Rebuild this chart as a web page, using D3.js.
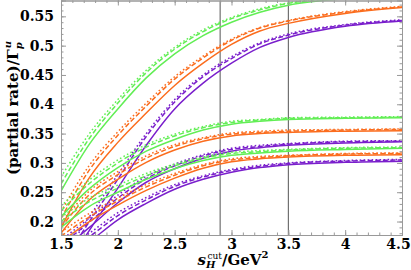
<!DOCTYPE html>
<html>
<head>
<meta charset="utf-8">
<script src="https://cdn.jsdelivr.net/npm/d3@7"></script>
<style>
  body { margin: 0; background: #fff; }
  svg { display: block; }
</style>
</head>
<body>
<div class="chart"></div>
<script>
// x grid shared by every curve
var sCut = [1.5, 1.75, 2, 2.25, 2.5, 2.75, 3, 3.25, 3.5, 4, 4.5];

// top set
var greenA_solid  = [0.252, 0.332, 0.392, 0.445, 0.486, 0.517, 0.540, 0.557, 0.569, 0.580, 0.584];
var greenA_dashed = [0.264, 0.342, 0.402, 0.454, 0.494, 0.524, 0.546, 0.561, 0.572, 0.581, 0.585];
var greenA_dotted = [0.276, 0.350, 0.408, 0.458, 0.497, 0.527, 0.548, 0.563, 0.573, 0.582, 0.586];
var orangeA_solid  = [0.190, 0.275, 0.335, 0.385, 0.432, 0.470, 0.502, 0.525, 0.538, 0.555, 0.565];
var orangeA_dashed = [0.205, 0.288, 0.347, 0.397, 0.443, 0.479, 0.509, 0.530, 0.542, 0.557, 0.566];
var orangeA_dotted = [0.217, 0.296, 0.353, 0.402, 0.447, 0.482, 0.511, 0.531, 0.543, 0.558, 0.567];
var purpleA_solid  = [0.110, 0.185, 0.257, 0.330, 0.392, 0.436, 0.470, 0.497, 0.514, 0.533, 0.542];
var purpleA_dashed = [0.125, 0.200, 0.272, 0.345, 0.404, 0.447, 0.478, 0.503, 0.518, 0.535, 0.543];
var purpleA_dotted = [0.135, 0.208, 0.280, 0.350, 0.408, 0.450, 0.481, 0.505, 0.520, 0.536, 0.544];

// middle set
var greenB_solid  = [0.208, 0.256, 0.292, 0.320, 0.340, 0.356, 0.366, 0.371, 0.374, 0.376, 0.377];
var greenB_dashed = [0.218, 0.265, 0.300, 0.327, 0.346, 0.360, 0.369, 0.373, 0.376, 0.377, 0.378];
var greenB_dotted = [0.226, 0.271, 0.305, 0.331, 0.349, 0.362, 0.371, 0.374, 0.377, 0.378, 0.379];
var orangeB_solid  = [0.180, 0.237, 0.272, 0.301, 0.322, 0.337, 0.346, 0.350, 0.352, 0.354, 0.355];
var orangeB_dashed = [0.190, 0.246, 0.280, 0.308, 0.328, 0.341, 0.349, 0.352, 0.354, 0.356, 0.357];
var orangeB_dotted = [0.198, 0.252, 0.285, 0.312, 0.331, 0.343, 0.351, 0.354, 0.356, 0.357, 0.358];
var purpleB_solid  = [0.150, 0.190, 0.232, 0.267, 0.290, 0.308, 0.320, 0.326, 0.330, 0.334, 0.336];
var purpleB_dashed = [0.160, 0.199, 0.240, 0.273, 0.295, 0.312, 0.323, 0.328, 0.332, 0.336, 0.337];
var purpleB_dotted = [0.168, 0.206, 0.245, 0.277, 0.298, 0.314, 0.325, 0.330, 0.333, 0.337, 0.338];

// lower set
var greenC_solid  = [0.190, 0.226, 0.250, 0.272, 0.290, 0.304, 0.313, 0.317, 0.320, 0.323, 0.325];
var greenC_dashed = [0.200, 0.234, 0.257, 0.278, 0.295, 0.308, 0.316, 0.319, 0.322, 0.325, 0.326];
var greenC_dotted = [0.207, 0.240, 0.262, 0.282, 0.298, 0.310, 0.318, 0.321, 0.323, 0.326, 0.327];
var orangeC_solid  = [0.165, 0.200, 0.228, 0.253, 0.274, 0.291, 0.302, 0.307, 0.310, 0.313, 0.314];
var orangeC_dashed = [0.175, 0.208, 0.235, 0.259, 0.279, 0.295, 0.305, 0.309, 0.312, 0.315, 0.316];
var orangeC_dotted = [0.182, 0.214, 0.240, 0.263, 0.282, 0.297, 0.307, 0.311, 0.313, 0.316, 0.317];
var purpleC_solid  = [0.130, 0.165, 0.203, 0.231, 0.255, 0.272, 0.284, 0.292, 0.297, 0.301, 0.303];
var purpleC_dashed = [0.140, 0.174, 0.210, 0.237, 0.260, 0.276, 0.287, 0.294, 0.299, 0.303, 0.305];
var purpleC_dotted = [0.148, 0.180, 0.215, 0.241, 0.263, 0.278, 0.289, 0.296, 0.300, 0.304, 0.306];

var cutLines = [2.9, 3.5];
var xTicks = [1.5, 2, 2.5, 3, 3.5, 4, 4.5];
var yTicks = [0.2, 0.25, 0.3, 0.35, 0.4, 0.45, 0.5, 0.55];

(function() {

  var curves = [
    [greenA_solid, "green", "solid"], [greenA_dashed, "green", "dashed"], [greenA_dotted, "green", "dotted"],
    [orangeA_solid, "orange", "solid"], [orangeA_dashed, "orange", "dashed"], [orangeA_dotted, "orange", "dotted"],
    [purpleA_solid, "purple", "solid"], [purpleA_dashed, "purple", "dashed"], [purpleA_dotted, "purple", "dotted"],
    [greenB_solid, "green", "solid"], [greenB_dashed, "green", "dashed"], [greenB_dotted, "green", "dotted"],
    [orangeB_solid, "orange", "solid"], [orangeB_dashed, "orange", "dashed"], [orangeB_dotted, "orange", "dotted"],
    [purpleB_solid, "purple", "solid"], [purpleB_dashed, "purple", "dashed"], [purpleB_dotted, "purple", "dotted"],
    [greenC_solid, "green", "solid"], [greenC_dashed, "green", "dashed"], [greenC_dotted, "green", "dotted"],
    [orangeC_solid, "orange", "solid"], [orangeC_dashed, "orange", "dashed"], [orangeC_dotted, "orange", "dotted"],
    [purpleC_solid, "purple", "solid"], [purpleC_dashed, "purple", "dashed"], [purpleC_dotted, "purple", "dotted"]
  ];

  var colors = { green: "#62ee55", orange: "#fb6d1e", purple: "#7a1fcc" };
  var dashes = { solid: null, dashed: "5,2.5", dotted: "1.6,2.4" };

  var width = 411, height = 270;
  var pLeft = 61, pRight = 402, pTop = 0.5, pBottom = 235;
  var serif = "'DejaVu Serif', 'Liberation Serif', serif";

  var svg = d3.select(".chart").append("svg")
    .attr("width", width)
    .attr("height", height);

  var x = d3.scaleLinear().domain([1.5, 4.5]).range([pLeft, pRight]);
  var y = d3.scaleLinear().domain([0.177, 0.577]).range([pBottom, pTop]);

  svg.append("defs").append("clipPath").attr("id", "plot")
    .append("rect")
    .attr("x", pLeft).attr("y", pTop)
    .attr("width", pRight - pLeft).attr("height", pBottom - pTop);

  var line = d3.line()
    .x(function(d, i) { return x(sCut[i]); })
    .y(function(d) { return y(d); })
    .curve(d3.curveMonotoneX);

  var plot = svg.append("g").attr("clip-path", "url(#plot)");

  plot.selectAll("line.cut")
    .data(cutLines)
    .enter().append("line")
    .attr("class", "cut")
    .attr("x1", function(d) { return x(d); })
    .attr("x2", function(d) { return x(d); })
    .attr("y1", pTop).attr("y2", pBottom)
    .attr("stroke", "#555")
    .attr("stroke-width", 1);

  plot.selectAll("path.curve")
    .data(curves)
    .enter().append("path")
    .attr("class", "curve")
    .attr("d", function(d) { return line(d[0]); })
    .attr("fill", "none")
    .attr("stroke", function(d) { return colors[d[1]]; })
    .attr("stroke-width", 1.5)
    .attr("stroke-dasharray", function(d) { return dashes[d[2]]; });

  // frame with inward ticks
  var minorX = d3.range(1.5, 4.51, 0.1);
  var minorY = d3.range(0.18, 0.577, 0.01);
  var frameColor = "#999";

  function styleAxis(g) {
    g.select(".domain").attr("stroke", frameColor);
    g.selectAll(".tick line").attr("stroke", frameColor);
  }

  svg.append("g").attr("transform", "translate(0," + pBottom + ")")
    .call(d3.axisBottom(x).tickValues(minorX).tickSize(-2.5).tickFormat(""))
    .call(styleAxis);
  var xAxisG = svg.append("g").attr("transform", "translate(0," + pBottom + ")")
    .call(d3.axisBottom(x).tickValues(xTicks).tickSize(-5).tickPadding(4).tickFormat(d3.format("~g")))
    .call(styleAxis);
  svg.append("g").attr("transform", "translate(0," + pTop + ")")
    .call(d3.axisTop(x).tickValues(minorX).tickSize(-2.5).tickFormat(""))
    .call(styleAxis);
  svg.append("g").attr("transform", "translate(0," + pTop + ")")
    .call(d3.axisTop(x).tickValues(xTicks).tickSize(-5).tickFormat(""))
    .call(styleAxis);

  svg.append("g").attr("transform", "translate(" + pLeft + ",0)")
    .call(d3.axisLeft(y).tickValues(minorY).tickSize(-2.5).tickFormat(""))
    .call(styleAxis);
  svg.append("g").attr("transform", "translate(" + pLeft + ",0)")
    .call(d3.axisLeft(y).tickValues(yTicks).tickSize(-5).tickPadding(7).tickFormat(d3.format("~g")))
    .call(styleAxis);
  svg.append("g").attr("transform", "translate(" + pRight + ",0)")
    .call(d3.axisRight(y).tickValues(minorY).tickSize(-2.5).tickFormat(""))
    .call(styleAxis);
  svg.append("g").attr("transform", "translate(" + pRight + ",0)")
    .call(d3.axisRight(y).tickValues(yTicks).tickSize(-5).tickFormat(""))
    .call(styleAxis);

  svg.selectAll(".tick text")
    .attr("font-family", serif)
    .attr("font-weight", "bold")
    .attr("font-size", "14px")
    .attr("fill", "#000");

  // keep the last x label inside the window
  xAxisG.selectAll(".tick text")
    .filter(function(d) { return d === 4.5; })
    .attr("dx", -4);

  // axis titles
  var ylab = svg.append("text")
    .attr("transform", "translate(18,108) rotate(-90)")
    .attr("text-anchor", "middle")
    .attr("font-family", serif)
    .attr("font-weight", "bold")
    .attr("font-size", "15px");
  ylab.append("tspan").text("(partial rate)/Γ");
  ylab.append("tspan").text("p").attr("font-style", "italic").attr("font-size", "10px").attr("dy", 4);
  ylab.append("tspan").text("u").attr("font-style", "italic").attr("font-size", "10px").attr("dx", -6).attr("dy", -11);

  var xlab = svg.append("text")
    .attr("x", 233).attr("y", 265)
    .attr("text-anchor", "middle")
    .attr("font-family", serif)
    .attr("font-weight", "bold")
    .attr("font-size", "15px");
  xlab.append("tspan").text("s").attr("font-style", "italic");
  xlab.append("tspan").text("H").attr("font-style", "italic").attr("font-size", "10px").attr("dy", 3);
  xlab.append("tspan").text("cut").attr("font-size", "9px").attr("font-weight", "normal").attr("dx", -8).attr("dy", -9);
  xlab.append("tspan").text("/GeV").attr("dy", 6);
  xlab.append("tspan").text("2").attr("font-size", "10px").attr("dy", -7);

}());
</script>
</body>
</html>
